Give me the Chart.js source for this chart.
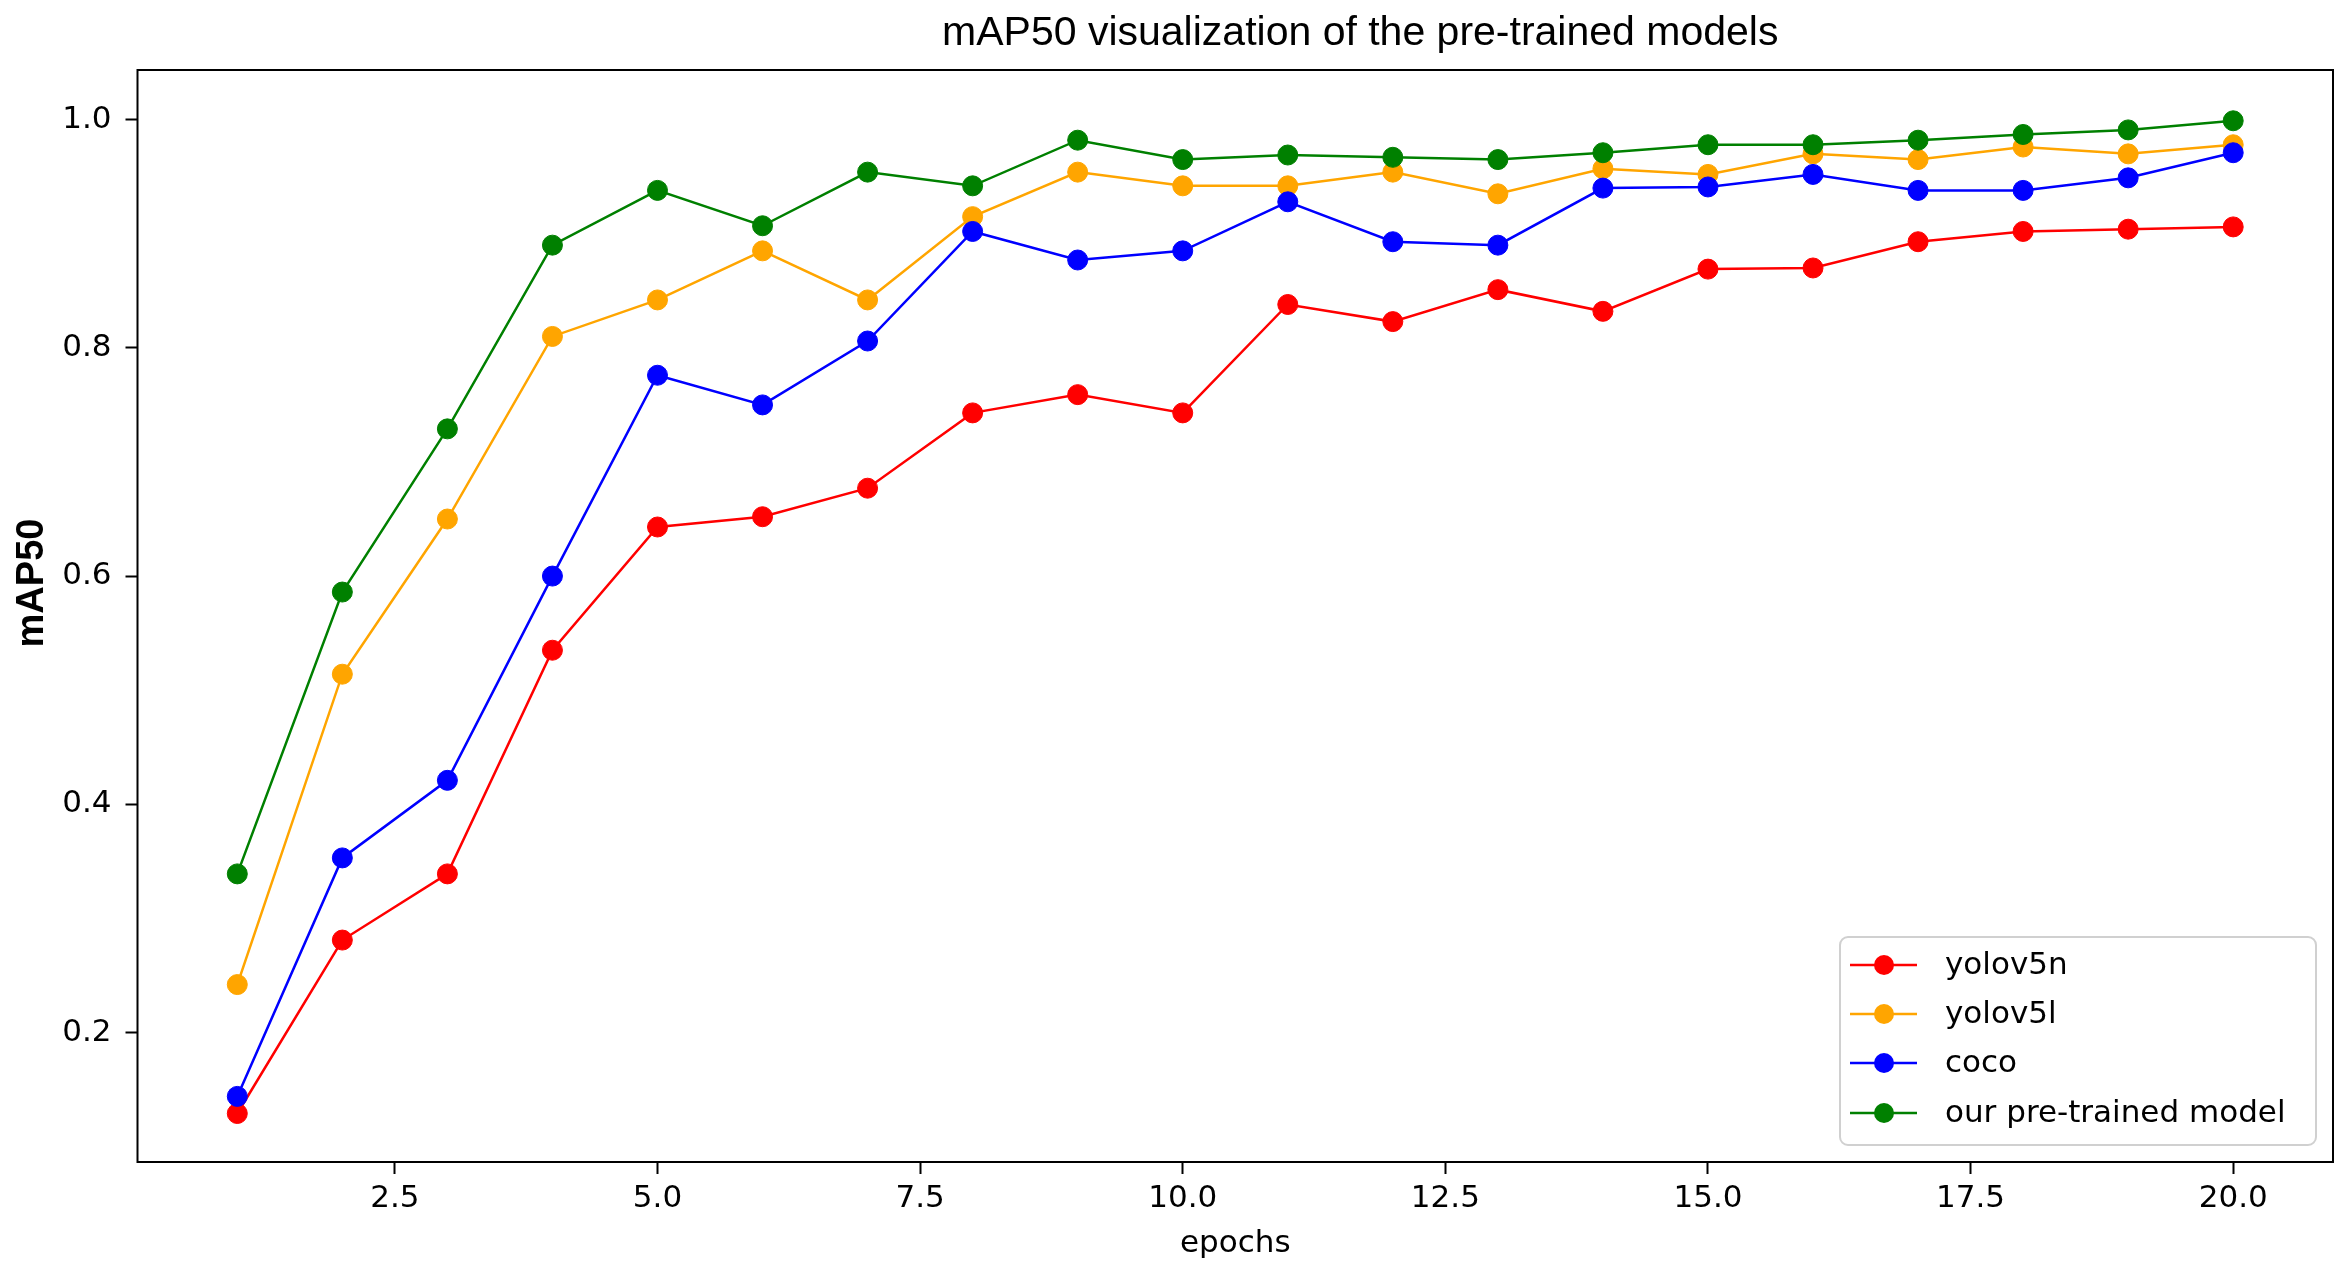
<!DOCTYPE html>
<html>
<head>
<meta charset="utf-8">
<script src="https://cdn.jsdelivr.net/npm/chart.js@4.4.1/dist/chart.umd.min.js"></script>
<style>
  html, body { margin: 0; padding: 0; background: #ffffff; }
  #wrap { width: 2344px; height: 1273px; }
</style>
</head>
<body>
<div id="wrap"><canvas id="c" width="2344" height="1273"></canvas></div>
<script>
// ---- data ----
const epochs = [1,2,3,4,5,6,7,8,9,10,11,12,13,14,15,16,17,18,19,20];
const seriesNames = ['yolov5n', 'yolov5l', 'coco', 'our pre-trained model'];
const yolov5n = [0.129,0.281,0.339,0.535,0.643,0.652,0.677,0.743,0.759,0.743,0.838,0.823,0.851,0.832,0.869,0.870,0.893,0.902,0.904,0.906];
const yolov5l = [0.242,0.514,0.650,0.810,0.842,0.885,0.842,0.915,0.954,0.942,0.942,0.954,0.935,0.957,0.952,0.970,0.965,0.976,0.970,0.978];
const coco    = [0.144,0.353,0.421,0.600,0.776,0.750,0.806,0.902,0.877,0.885,0.928,0.893,0.890,0.940,0.941,0.952,0.938,0.938,0.949,0.971];
const ours    = [0.339,0.586,0.729,0.890,0.938,0.907,0.954,0.942,0.982,0.965,0.969,0.967,0.965,0.971,0.978,0.978,0.982,0.987,0.991,0.999];
const xTicks = [2.5, 5.0, 7.5, 10.0, 12.5, 15.0, 17.5, 20.0];
const yTicks = [0.2, 0.4, 0.6, 0.8, 1.0];
const chartTitle = 'mAP50 visualization of the pre-trained models';
const xTitle = 'epochs';
const yTitle = 'mAP50';

const colors = ['#ff0000', '#ffa500', '#0000ff', '#008000'];
const allSeries = [yolov5n, yolov5l, coco, ours];

const datasets = allSeries.map((vals, i) => ({
  label: seriesNames[i],
  data: epochs.map((e, j) => ({ x: e, y: vals[j] })),
  borderColor: colors[i],
  backgroundColor: colors[i],
  pointBackgroundColor: colors[i],
  pointBorderColor: colors[i],
  pointBorderWidth: 1,
  pointRadius: 10,
  pointHoverRadius: 10,
  borderWidth: 2.5,
  tension: 0,
  fill: false,
  order: allSeries.length - 1 - i
}));

const frameAndExtras = {
  id: 'frameAndExtras',
  afterDraw(chart) {
    const ctx = chart.ctx;
    const ca = chart.chartArea;
    ctx.save();
    // frame
    ctx.strokeStyle = '#000';
    ctx.lineWidth = 2;
    ctx.strokeRect(ca.left, ca.top, ca.right - ca.left, ca.bottom - ca.top);

    // chart title (sits right of the plot centre, as in the source figure)
    ctx.fillStyle = '#000';
    ctx.font = '41px "Liberation Sans", Arial, sans-serif';
    ctx.textAlign = 'center';
    ctx.textBaseline = 'middle';
    ctx.fillText(chartTitle, (ca.left + ca.right) / 2 + 125, 34);

    // y axis title
    ctx.font = 'bold 38px "Liberation Sans", Arial, sans-serif';
    ctx.translate(33, (ca.top + ca.bottom) / 2 - 33);
    ctx.rotate(-Math.PI / 2);
    ctx.fillText(yTitle, 0, 0);
    ctx.restore();

    // legend
    ctx.save();
    const w = 476, h = 208;
    const right = ca.right - 17, bottom = ca.bottom - 17;
    const left = right - w, top = bottom - h;
    ctx.beginPath();
    if (ctx.roundRect) ctx.roundRect(left, top, w, h, 8); else ctx.rect(left, top, w, h);
    ctx.fillStyle = 'rgba(255,255,255,0.8)';
    ctx.fill();
    ctx.strokeStyle = '#d0d0d0';
    ctx.lineWidth = 2;
    ctx.stroke();
    const rows = [28, 77, 126, 176];
    ctx.font = '31px "DejaVu Sans", sans-serif';
    ctx.textAlign = 'left';
    ctx.textBaseline = 'middle';
    seriesNames.forEach((name, i) => {
      const y = top + rows[i];
      ctx.strokeStyle = colors[i];
      ctx.lineWidth = 2.5;
      ctx.beginPath();
      ctx.moveTo(left + 10, y);
      ctx.lineTo(left + 77, y);
      ctx.stroke();
      ctx.fillStyle = colors[i];
      ctx.beginPath();
      ctx.arc(left + 44, y, 10, 0, Math.PI * 2);
      ctx.fill();
      ctx.fillStyle = '#000';
      ctx.fillText(name, left + 105, y + 1);
    });
    ctx.restore();
  }
};

new Chart(document.getElementById('c'), {
  type: 'line',
  data: { datasets },
  options: {
    responsive: false,
    animation: false,
    devicePixelRatio: 1,
    layout: { padding: { left: 0, right: 11, top: 70, bottom: 0 } },
    plugins: {
      legend: { display: false },
      tooltip: { enabled: false },
      title: { display: false }
    },
    scales: {
      x: {
        type: 'linear',
        min: 0.05,
        max: 20.95,
        afterBuildTicks(scale) { scale.ticks = xTicks.map(v => ({ value: v })); },
        afterFit(scale) { scale.height = 111; },
        ticks: {
          color: '#000',
          font: { family: '"DejaVu Sans", sans-serif', size: 31 },
          padding: 6,
          maxRotation: 0,
          autoSkip: false,
          callback: (v) => Number(v).toFixed(1)
        },
        grid: { drawOnChartArea: false, drawTicks: true, tickLength: 12, color: '#000', tickWidth: 2 },
        border: { display: false },
        title: {
          display: true,
          text: xTitle,
          color: '#000',
          font: { family: '"DejaVu Sans", sans-serif', size: 31 },
          padding: { top: 0, bottom: 10 }
        }
      },
      y: {
        type: 'linear',
        min: 0.0865,
        max: 1.0435,
        afterBuildTicks(scale) { scale.ticks = yTicks.map(v => ({ value: v })); },
        afterFit(scale) { scale.width = 137.5; },
        ticks: {
          color: '#000',
          font: { family: '"DejaVu Sans", sans-serif', size: 31 },
          padding: 14,
          callback: (v) => Number(v).toFixed(1)
        },
        grid: { drawOnChartArea: false, drawTicks: true, tickLength: 12, color: '#000', tickWidth: 2 },
        border: { display: false }
      }
    }
  },
  plugins: [frameAndExtras]
});
</script>
</body>
</html>
